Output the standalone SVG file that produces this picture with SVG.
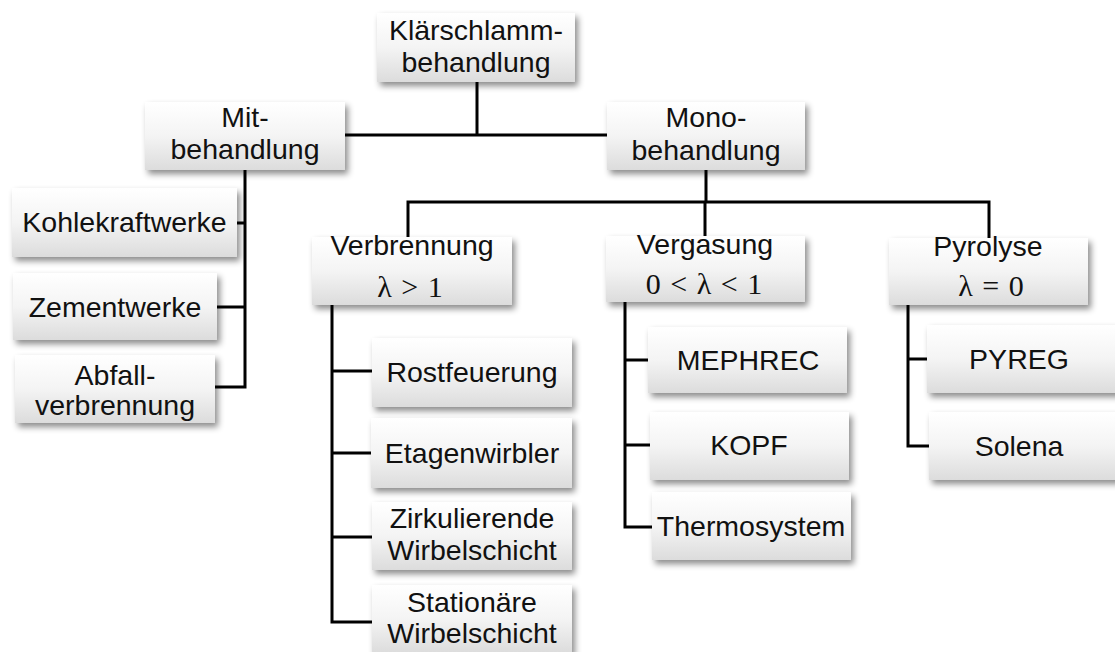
<svg xmlns="http://www.w3.org/2000/svg" width="1115" height="652" viewBox="0 0 1115 652">
  <style>
    .box { fill: url(#boxFill); filter: url(#shadow); }
    .lbl { font-family: "Liberation Sans", Arial, sans-serif; font-size: 28.5px; fill: #111; text-anchor: middle; }
    .math { font-family: "Liberation Serif", "Times New Roman", serif; font-size: 30px; fill: #111; text-anchor: middle; word-spacing: 2px; }
    .wire { fill: none; stroke: #000; stroke-width: 3; stroke-linejoin: miter; stroke-linecap: square; }
  </style>
  <defs>
    <linearGradient id="boxFill" x1="0" y1="0" x2="0" y2="1">
      <stop offset="0" stop-color="#ffffff"/>
      <stop offset="0.5" stop-color="#f4f4f4"/>
      <stop offset="1" stop-color="#dcdcdc"/>
    </linearGradient>
    <filter id="shadow" x="-10%" y="-20%" width="125%" height="150%">
      <feDropShadow dx="3" dy="4" stdDeviation="3" flood-color="#000" flood-opacity="0.45"/>
    </filter>
  </defs>

  <!-- connectors -->
  <g id="connectors">
    <path class="wire" d="M477 82 V135 M345 135 H607"/>
    <path class="wire" d="M245 170 V387 M237 223 H245 M217 307 H245 M215 387 H245"/>
    <path class="wire" d="M706 170 V202 M408 202 H989 M408 202 V237 M705 202 V236 M989 202 V238"/>
    <path class="wire" d="M332 305 V622 M332 371 H372 M332 453 H371 M332 537 H372 M332 622 H372"/>
    <path class="wire" d="M625 302 V527 M625 360 H648 M625 445 H650 M625 527 H652"/>
    <path class="wire" d="M908 305 V446 M908 359 H927 M908 446 H929"/>
  </g>

  <!-- root -->
  <g id="klaerschlammbehandlung">
    <rect class="box" x="377" y="13" width="198" height="69"/>
    <text class="lbl" x="476" y="40">Klärschlamm-</text>
    <text class="lbl" x="476" y="72">behandlung</text>
  </g>

  <!-- co-treatment branch -->
  <g id="mitbehandlung">
    <rect class="box" x="145" y="102" width="200" height="68"/>
    <text class="lbl" x="245" y="127">Mit-</text>
    <text class="lbl" x="245" y="159">behandlung</text>
  </g>
  <g id="kohlekraftwerke">
    <rect class="box" x="12" y="188" width="225" height="69"/>
    <text class="lbl" x="124.5" y="232">Kohlekraftwerke</text>
  </g>
  <g id="zementwerke">
    <rect class="box" x="13" y="273" width="204" height="67"/>
    <text class="lbl" x="115" y="317">Zementwerke</text>
  </g>
  <g id="abfallverbrennung">
    <rect class="box" x="15" y="355" width="200" height="68"/>
    <text class="lbl" x="115" y="385">Abfall-</text>
    <text class="lbl" x="115" y="415">verbrennung</text>
  </g>

  <!-- mono-treatment branch -->
  <g id="monobehandlung">
    <rect class="box" x="607" y="102" width="198" height="68"/>
    <text class="lbl" x="706" y="127">Mono-</text>
    <text class="lbl" x="706" y="160">behandlung</text>
  </g>

  <g id="verbrennung">
    <rect class="box" x="312" y="237" width="200" height="68"/>
    <text class="lbl" x="412" y="255">Verbrennung</text>
    <text class="math" x="410" y="297">λ &gt; 1</text>
  </g>
  <g id="vergasung">
    <rect class="box" x="606" y="236" width="199" height="66"/>
    <text class="lbl" x="705" y="254">Vergasung</text>
    <text class="math" x="704" y="294">0 &lt; λ &lt; 1</text>
  </g>
  <g id="pyrolyse">
    <rect class="box" x="889" y="238" width="199" height="67"/>
    <text class="lbl" x="988" y="256">Pyrolyse</text>
    <text class="math" x="991" y="296">λ = 0</text>
  </g>

  <!-- combustion processes -->
  <g id="rostfeuerung">
    <rect class="box" x="372" y="338" width="200" height="69"/>
    <text class="lbl" x="472" y="382">Rostfeuerung</text>
  </g>
  <g id="etagenwirbler">
    <rect class="box" x="371" y="418" width="201" height="70"/>
    <text class="lbl" x="472" y="463">Etagenwirbler</text>
  </g>
  <g id="zirkulierende-wirbelschicht">
    <rect class="box" x="372" y="502" width="200" height="68"/>
    <text class="lbl" x="472" y="528">Zirkulierende</text>
    <text class="lbl" x="472" y="560">Wirbelschicht</text>
  </g>
  <g id="stationaere-wirbelschicht">
    <rect class="box" x="372" y="585" width="200" height="68"/>
    <text class="lbl" x="472" y="612">Stationäre</text>
    <text class="lbl" x="472" y="643">Wirbelschicht</text>
  </g>

  <!-- gasification processes -->
  <g id="mephrec">
    <rect class="box" x="648" y="327" width="199" height="66"/>
    <text class="lbl" x="748" y="370">MEPHREC</text>
  </g>
  <g id="kopf">
    <rect class="box" x="650" y="412" width="199" height="68"/>
    <text class="lbl" x="749" y="455">KOPF</text>
  </g>
  <g id="thermosystem">
    <rect class="box" x="652" y="492" width="199" height="68"/>
    <text class="lbl" x="751" y="536">Thermosystem</text>
  </g>

  <!-- pyrolysis processes -->
  <g id="pyreg">
    <rect class="box" x="927" y="325" width="200" height="68"/>
    <text class="lbl" x="1019" y="369">PYREG</text>
  </g>
  <g id="solena">
    <rect class="box" x="929" y="412" width="200" height="68"/>
    <text class="lbl" x="1019" y="456">Solena</text>
  </g>
</svg>
